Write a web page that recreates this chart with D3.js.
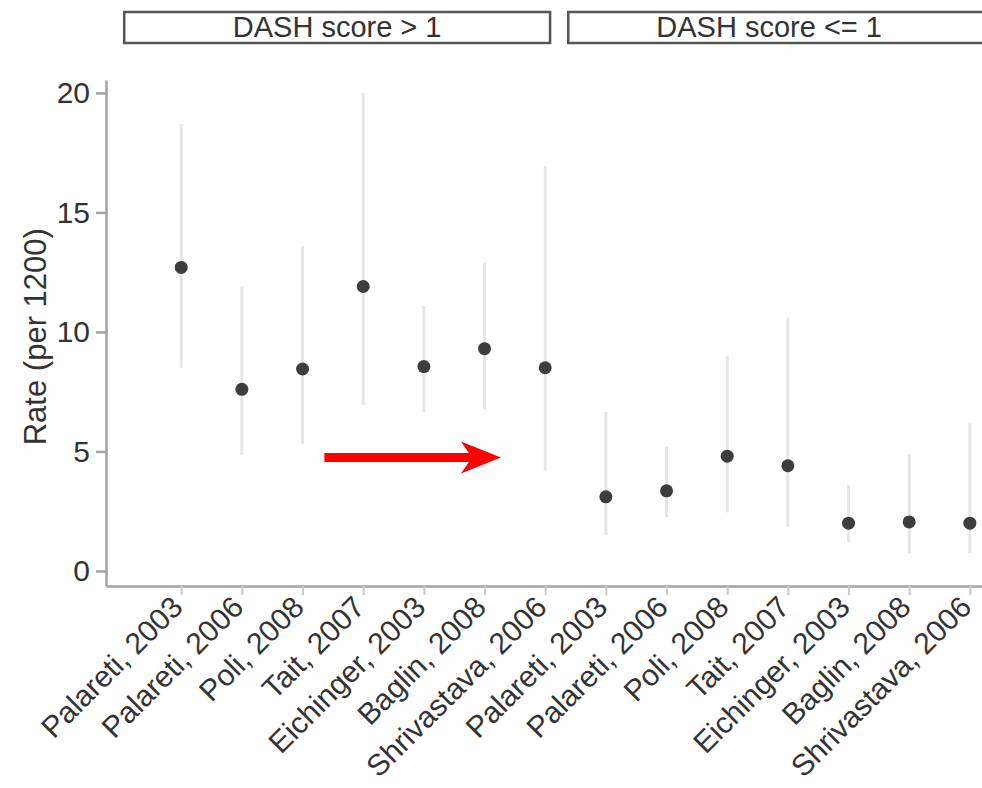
<!DOCTYPE html>
<html>
<head>
<meta charset="utf-8">
<script src="https://cdnjs.cloudflare.com/ajax/libs/d3/7.8.5/d3.min.js"></script>
<style>
  body { margin: 0; background: #fff; }
  text { font-family: "Liberation Sans", Arial, Helvetica, sans-serif; fill: #333; }
</style>
</head>
<body>
<svg id="chart" width="982" height="788"></svg>
<script>
"use strict"

// study labels, in plotting order
var studies = ["Palareti, 2003", "Palareti, 2006", "Poli, 2008", "Tait, 2007",
  "Eichinger, 2003", "Baglin, 2008", "Shrivastava, 2006",
  "Palareti, 2003", "Palareti, 2006", "Poli, 2008", "Tait, 2007",
  "Eichinger, 2003", "Baglin, 2008", "Shrivastava, 2006"]
var panels = ["DASH score > 1", "DASH score <= 1"]
var panelOf = [0, 0, 0, 0, 0, 0, 0, 1, 1, 1, 1, 1, 1, 1]
var rate  = [12.7, 7.6, 8.45, 11.9, 8.55, 9.3, 8.5, 3.1, 3.35, 4.8, 4.4, 2.0, 2.05, 2.0]
var lower = [8.5, 4.85, 5.3, 6.95, 6.65, 6.75, 4.2, 1.5, 2.25, 2.45, 1.85, 1.2, 0.75, 0.75]
var upper = [18.7, 11.9, 13.6, 20.0, 11.1, 12.9, 16.95, 6.65, 5.2, 9.0, 10.6, 3.6, 4.9, 6.2]
var yTicks = [0, 5, 10, 15, 20]

var width = 982
var height = 788
var svg = d3.select("#chart")

var x = d3.scaleLinear().domain([-1.24, 13.2]).range([106, 982])
var y = d3.scaleLinear().domain([-0.63, 20.54]).range([586, 80])

var axisColor = "#a3a3a3"
var fontSize = 31

// strips on top
var strips = [[-0.94, 6.08], [6.38, 13.5]]
var strip = svg.append("g")
strips.forEach(function(s, i) {
  strip.append("rect")
    .attr("x", x(s[0])).attr("y", 12)
    .attr("width", x(s[1]) - x(s[0])).attr("height", 31)
    .attr("fill", "#fff").attr("stroke", "#555").attr("stroke-width", 2.5)
  strip.append("text")
    .attr("x", (x(s[0]) + Math.min(x(s[1]), 982)) / 2 + (i == 1 ? -6 : 0))
    .attr("y", 37)
    .attr("text-anchor", "middle")
    .style("font-size", "29px")
    .text(panels[i])
})

// y axis
var yAxis = svg.append("g")
  .attr("transform", "translate(106,0)")
  .call(d3.axisLeft(y).tickValues(yTicks).tickSize(10).tickPadding(6).tickSizeOuter(0))
yAxis.selectAll("path, line").attr("stroke", axisColor).attr("stroke-width", 2.5)
yAxis.selectAll("text").style("font-size", "30px").attr("fill", "#333")

// x axis
var xAxis = svg.append("g")
  .attr("transform", "translate(0,586)")
  .call(d3.axisBottom(x).tickValues(d3.range(studies.length)).tickSize(9).tickSizeOuter(0)
    .tickFormat(function(d) { return studies[d] }))
xAxis.select(".domain").attr("stroke", axisColor).attr("stroke-width", 2.5)
xAxis.selectAll("line").attr("stroke", "#c8c8c8").attr("stroke-width", 2)
xAxis.selectAll("text")
  .style("font-size", "30px")
  .attr("fill", "#333")
  .attr("text-anchor", "end")
  .attr("x", 0).attr("y", 0)
  .attr("transform", "translate(-12,8) rotate(-45)")
  .attr("dy", "0.7em")

// y label
svg.append("text")
  .attr("transform", "translate(46," + y(9.8) + ") rotate(-90)")
  .attr("text-anchor", "middle")
  .style("font-size", fontSize + "px")
  .text("Rate (per 1200)")

// intervals
var idx = d3.range(studies.length)
svg.append("g").selectAll("line").data(idx).join("line")
  .attr("x1", function(i) { return x(i) }).attr("x2", function(i) { return x(i) })
  .attr("y1", function(i) { return y(lower[i]) }).attr("y2", function(i) { return y(upper[i]) })
  .attr("stroke", "#e6e6e6").attr("stroke-width", 3)

// points
svg.append("g").selectAll("circle").data(idx).join("circle")
  .attr("cx", function(i) { return x(i) }).attr("cy", function(i) { return y(rate[i]) })
  .attr("r", 6.5)
  .attr("fill", "#3d3d3d")

// red arrow annotation, placed in data units
var arrow = { x0: 2.36, x1: 5.27, yv: 4.75 }
var ax0 = x(arrow.x0), ax1 = x(arrow.x1), ay = y(arrow.yv)
var headLen = 40, headHalf = 16, shaft = 4.5
svg.append("path")
  .attr("d", "M" + ax0 + "," + (ay - shaft) +
    "L" + (ax1 - headLen + 8) + "," + (ay - shaft) +
    "L" + (ax1 - headLen) + "," + (ay - headHalf) +
    "L" + ax1 + "," + ay +
    "L" + (ax1 - headLen) + "," + (ay + headHalf) +
    "L" + (ax1 - headLen + 8) + "," + (ay + shaft) +
    "L" + ax0 + "," + (ay + shaft) + "Z")
  .attr("fill", "#ff0000")
</script>
</body>
</html>
